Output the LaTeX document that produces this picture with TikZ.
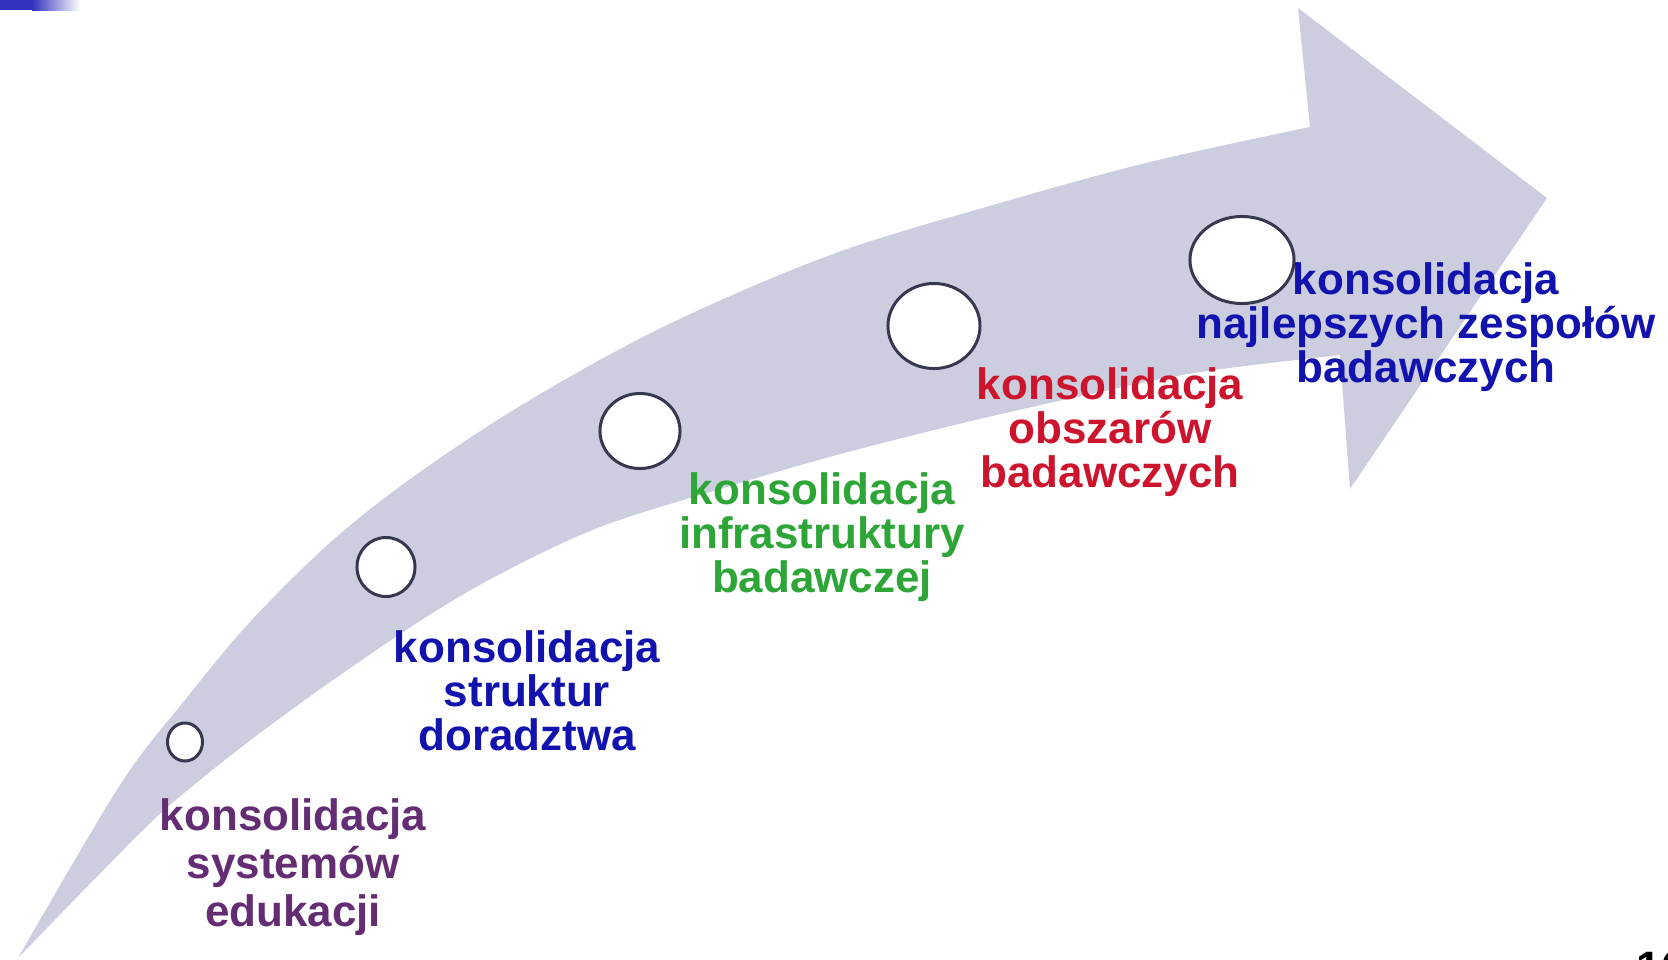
\documentclass[tikz,border=0pt]{standalone}
\usepackage{fontspec}
\setmainfont{Liberation Sans}
\usetikzlibrary{shapes.geometric}
\definecolor{arrowgray}{RGB}{204,205,222}
\definecolor{ringcol}{RGB}{55,55,80}
\definecolor{txtpurple}{RGB}{100,45,115}
\definecolor{txtblue}{RGB}{18,18,175}
\definecolor{txtgreen}{RGB}{45,165,55}
\definecolor{txtred}{RGB}{205,20,45}
\definecolor{tlblue}{RGB}{50,50,190}
\tikzset{
  stage/.style={ellipse, draw=ringcol, line width=0.85pt, fill=white, inner sep=0pt},
  lbl/.style={align=center, inner sep=0pt, anchor=base,
    font=\bfseries\fontsize{12.5}{12.5}\selectfont},
}
\begin{document}
\begin{tikzpicture}[x=0.01cm, y=-0.01cm]
\useasboundingbox (0,0) rectangle (1668,960);
% top-left remnant
\fill[tlblue] (0,0) rectangle (32,10);
\shade[left color=tlblue, right color=white] (32,0) rectangle (80,10);
% curved arrow
\fill[arrowgray]
  plot[smooth, tension=0.55] coordinates {(18,958) (120,785) (185,700) (250,622) (333,540) (420,472) (530,400) (667,325) (833,254) (1000,203) (1150,162) (1310,127)}
  -- (1298,8) -- (1547,198) -- (1350,489) -- (1340,355)
  -- plot[smooth, tension=0.55] coordinates {(1340,355) (1200,372) (1100,392) (967,422) (833,456) (720,489) (600,527) (500,574) (423,619) (333,680) (260,733) (200,780) (143,830) (18,958)}
  -- cycle;
% stage circles
\node[stage, minimum width=0.35cm, minimum height=0.38cm] (c1) at (185,742) {};
\node[stage, minimum width=0.58cm, minimum height=0.59cm] (c2) at (386,567) {};
\node[stage, minimum width=0.80cm, minimum height=0.75cm] (c3) at (640,431) {};
\node[stage, minimum width=0.92cm, minimum height=0.85cm] (c4) at (934,326) {};
\node[stage, minimum width=1.04cm, minimum height=0.87cm] (c5) at (1242,260) {};
% labels (base anchor = baseline of the last line)
\node[lbl, text=txtpurple, font=\bfseries\fontsize{12.5}{13.6}\selectfont] (t1) at (293,926) {konsolidacja\\systemów\\edukacji};
\node[lbl, text=txtblue] (t2) at (527,750) {konsolidacja\\struktur\\doradztwa};
\node[lbl, text=txtgreen] (t3) at (822,592) {konsolidacja\\infrastruktury\\badawczej};
\node[lbl, text=txtred] (t4) at (1110,487) {konsolidacja\\obszarów\\badawczych};
\node[lbl, text=txtblue] (t5) at (1426,382) {konsolidacja\\najlepszych zespołów\\badawczych};
% page number (cut by the frame)
\node[anchor=north west, inner sep=0pt, font=\bfseries\fontsize{12.5}{12.5}\selectfont] (pg) at (1636,951) {16};
\end{tikzpicture}
\end{document}
